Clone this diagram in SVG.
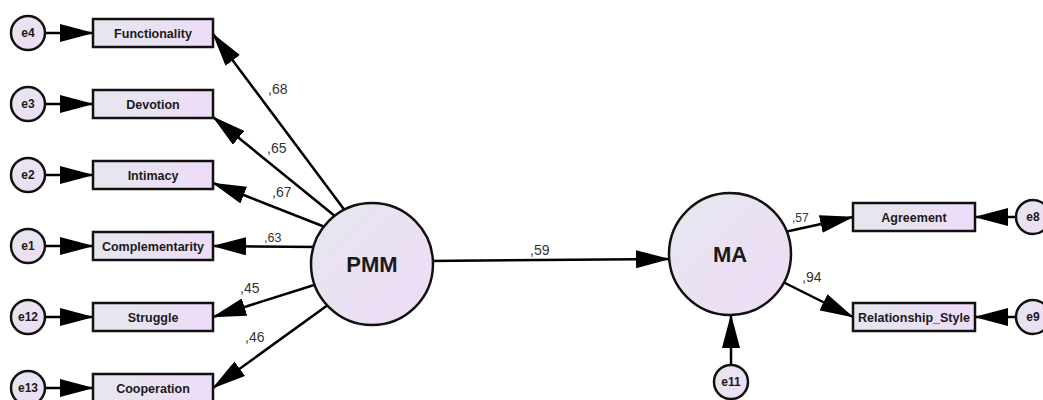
<svg xmlns="http://www.w3.org/2000/svg" width="1043" height="400" viewBox="0 0 1043 400">
  <defs>
    <linearGradient id="boxFill" x1="0" y1="0" x2="1" y2="0">
      <stop offset="0" stop-color="#e6e6ee"/>
      <stop offset="1" stop-color="#eedcf8"/>
    </linearGradient>
    <linearGradient id="circFill" x1="0" y1="0" x2="1" y2="1">
      <stop offset="0" stop-color="#e6e6ef"/>
      <stop offset="1" stop-color="#efdcf6"/>
    </linearGradient>
    <marker id="arr" markerUnits="userSpaceOnUse" markerWidth="34" markerHeight="18" refX="33" refY="9" orient="auto">
      <path d="M0,0 L34,9 L0,18 Z" fill="#000"/>
    </marker>
    <style>
      .box { fill: url(#boxFill); stroke: #111; stroke-width: 2.5; }
      .circ { fill: url(#circFill); stroke: #111; stroke-width: 2.5; }
      .blbl { font-family: "Liberation Sans", Arial, sans-serif; font-weight: bold; font-size: 12.5px; fill: #1a1a1a; text-anchor: middle; }
      .elbl { font-family: "Liberation Sans", Arial, sans-serif; font-weight: bold; font-size: 12px; fill: #1a1a1a; text-anchor: middle; }
      .big { font-family: "Liberation Sans", Arial, sans-serif; font-weight: bold; font-size: 22px; fill: #1a1a1a; text-anchor: middle; }
      .num { font-family: "Liberation Sans", Arial, sans-serif; font-size: 14px; fill: #333; }
      .edge { stroke: #000; stroke-width: 2.5; fill: none; marker-end: url(#arr); }
    </style>
  </defs>
  <rect width="1043" height="400" fill="#ffffff"/>

  <g id="connectors">
    <line class="edge" x1="45" y1="33" x2="93" y2="33"/>
    <line class="edge" x1="45" y1="104" x2="93" y2="104"/>
    <line class="edge" x1="45" y1="175" x2="93" y2="175"/>
    <line class="edge" x1="45" y1="246" x2="93" y2="246"/>
    <line class="edge" x1="45" y1="317" x2="93" y2="317"/>
    <line class="edge" x1="45" y1="388" x2="93" y2="388"/>

    <line class="edge" x1="349" y1="216" x2="213" y2="34"/>
    <line class="edge" x1="341" y1="221" x2="213" y2="117"/>
    <line class="edge" x1="330" y1="229" x2="213" y2="183"/>
    <line class="edge" x1="320" y1="247" x2="213" y2="246"/>
    <line class="edge" x1="330" y1="280" x2="213" y2="317"/>
    <line class="edge" x1="332" y1="302" x2="213" y2="388"/>

    <line class="edge" x1="425" y1="261" x2="669" y2="259"/>
    <line class="edge" x1="780" y1="233" x2="853" y2="217"/>
    <line class="edge" x1="779" y1="280" x2="853" y2="317"/>
    <line class="edge" x1="1016" y1="217" x2="975" y2="217"/>
    <line class="edge" x1="1016" y1="317" x2="975" y2="317"/>
    <line class="edge" x1="731" y1="365" x2="731" y2="315"/>
  </g>

  <g id="labels">
    <text class="num" x="268" y="94">,68</text>
    <text class="num" x="267" y="153">,65</text>
    <text class="num" x="272" y="197">,67</text>
    <text class="num" x="264" y="242" style="font-size:12.5px">,63</text>
    <text class="num" x="240" y="293">,45</text>
    <text class="num" x="245" y="342">,46</text>
    <text class="num" x="530" y="255">,59</text>
    <text class="num" x="792" y="222" style="font-size:12px">,57</text>
    <text class="num" x="802" y="282">,94</text>
  </g>

  <g id="e4"><circle class="circ" cx="28" cy="33" r="17"/><text class="elbl" x="28" y="37">e4</text></g>
  <g id="e3"><circle class="circ" cx="28" cy="104" r="17"/><text class="elbl" x="28" y="108">e3</text></g>
  <g id="e2"><circle class="circ" cx="28" cy="175" r="17"/><text class="elbl" x="28" y="179">e2</text></g>
  <g id="e1"><circle class="circ" cx="28" cy="246" r="17"/><text class="elbl" x="28" y="250">e1</text></g>
  <g id="e12"><circle class="circ" cx="28" cy="317" r="17"/><text class="elbl" x="28" y="321">e12</text></g>
  <g id="e13"><circle class="circ" cx="28" cy="388" r="17"/><text class="elbl" x="28" y="392">e13</text></g>

  <g id="Functionality"><rect class="box" x="93" y="19" width="120" height="28"/><text class="blbl" x="153" y="37.5">Functionality</text></g>
  <g id="Devotion"><rect class="box" x="93" y="90" width="120" height="28"/><text class="blbl" x="153" y="108.5">Devotion</text></g>
  <g id="Intimacy"><rect class="box" x="93" y="161" width="120" height="28"/><text class="blbl" x="153" y="179.5">Intimacy</text></g>
  <g id="Complementarity"><rect class="box" x="93" y="232" width="120" height="28"/><text class="blbl" x="153" y="250.5">Complementarity</text></g>
  <g id="Struggle"><rect class="box" x="93" y="303" width="120" height="28"/><text class="blbl" x="153" y="321.5">Struggle</text></g>
  <g id="Cooperation"><rect class="box" x="93" y="374" width="120" height="28"/><text class="blbl" x="153" y="392.5">Cooperation</text></g>

  <g id="PMM"><circle class="circ" cx="372" cy="264" r="61"/><text class="big" x="372" y="272">PMM</text></g>
  <g id="MA"><circle class="circ" cx="730" cy="254" r="61"/><text class="big" x="730" y="262">MA</text></g>

  <g id="Agreement"><rect class="box" x="853" y="203" width="122" height="28"/><text class="blbl" x="914" y="221.5">Agreement</text></g>
  <g id="Relationship_Style"><rect class="box" x="853" y="303" width="122" height="28"/><text class="blbl" x="914" y="321.5">Relationship_Style</text></g>

  <g id="e8"><circle class="circ" cx="1033" cy="217" r="17"/><text class="elbl" x="1033" y="221">e8</text></g>
  <g id="e9"><circle class="circ" cx="1033" cy="317" r="17"/><text class="elbl" x="1033" y="321">e9</text></g>
  <g id="e11"><circle class="circ" cx="731" cy="382" r="17"/><text class="elbl" x="731" y="386">e11</text></g>
</svg>
